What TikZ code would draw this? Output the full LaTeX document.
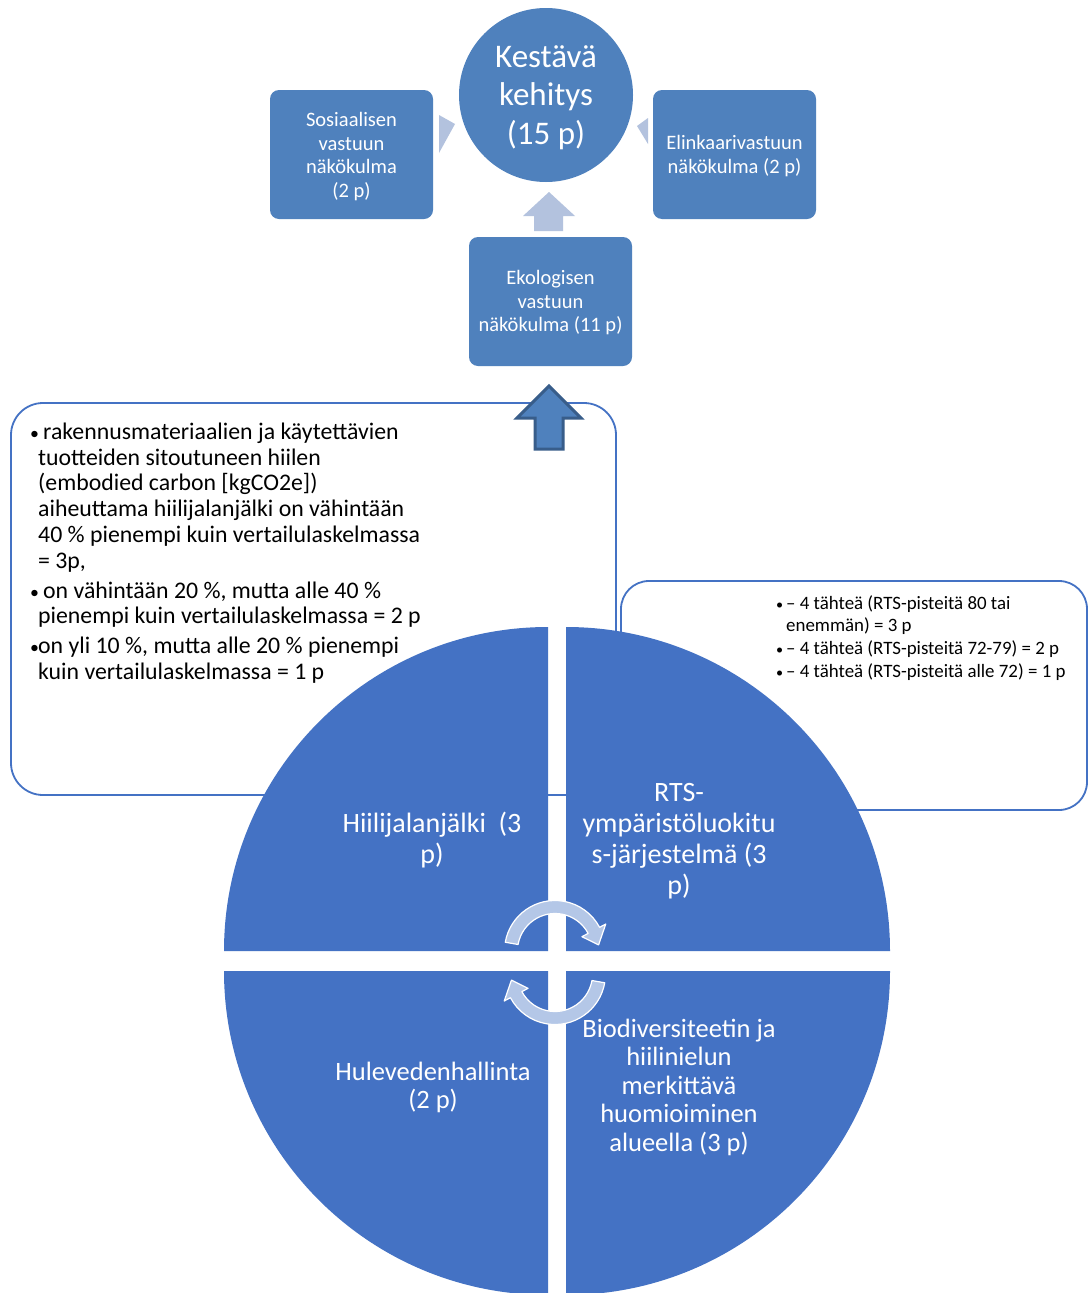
\documentclass[tikz,border=0pt]{standalone}
\usepackage{fontspec}
\setmainfont{Carlito}
\usetikzlibrary{calc}

\definecolor{topblue}{RGB}{79,129,189}
\definecolor{pieblue}{RGB}{68,114,196}
\definecolor{softblue}{RGB}{179,194,222}
\definecolor{cyclefill}{RGB}{180,199,231}
\definecolor{darkrim}{RGB}{56,93,138}
\definecolor{framecol}{RGB}{68,114,196}

% bullet set in a box of the given width
\newcommand\bulbox[1]{\makebox[#1pt][l]{\scalebox{0.75}{\textbullet}}}

\begin{document}
\begin{tikzpicture}[x=1pt,y=-1pt,
  aspectbox/.style={fill=topblue, rounded corners=9pt, minimum width=163pt,
    minimum height=129pt, inner sep=0pt},
  aspecttext/.style={text=white, align=center, inner sep=0pt,
    font=\fontsize{20.5}{23.5}\selectfont},
  textframe/.style={draw=framecol, line width=1.8pt, fill=white, inner sep=0pt},
  wedgetext/.style={text=white, align=center, inner sep=0pt},
  softtip/.style={fill=softblue},
  cyclearrow/.style={fill=cyclefill, draw=white, line width=1.2pt, line join=round},
]
\useasboundingbox (0,0) rectangle (1088,1293);
\clip (0,0) rectangle (1088,1293);
\fill[white] (0,0) rectangle (1088,1293);

% criteria frames
\node[textframe, rounded corners=32pt, minimum width=605pt, minimum height=392pt]
  (leftframe) at (313.5,599) {};
\node[textframe, rounded corners=28pt, minimum width=466pt, minimum height=229pt]
  (rightframe) at (854,695.5) {};

% upward block arrow from the frame to the ecological box
\filldraw[fill=topblue, draw=darkrim, line width=3pt, line join=miter]
  (535,449) -- (535,418) -- (517,418) -- (549,386) -- (581,418) -- (563,418) -- (563,449) -- cycle;

% four quarter wedges
\fill[pieblue] (548,951) -- (224,951) arc[start angle=180, end angle=270, radius=324] -- cycle;
\fill[pieblue] (566,951) -- (566,627) arc[start angle=270, end angle=360, radius=324] -- cycle;
\fill[pieblue] (548,971) -- (548,1295) arc[start angle=90, end angle=180, radius=324] -- cycle;
\fill[pieblue] (566,971) -- (890,971) arc[start angle=0, end angle=90, radius=324] -- cycle;

% cycle arrows in the middle
\begin{scope}[shift={(555,951)}]
  \filldraw[cyclearrow] (190:50.5) arc[start angle=190, end angle=332, radius=50.5]
    -- (332:57.5) -- (352:44) -- (332:30.5) -- (332:37.5)
    arc[start angle=332, end angle=190, radius=37.5] -- cycle;
\end{scope}
\begin{scope}[shift={(555,974)}]
  \filldraw[cyclearrow] (10:50.5) arc[start angle=10, end angle=152, radius=50.5]
    -- (152:57.5) -- (172:44) -- (152:30.5) -- (152:37.5)
    arc[start angle=152, end angle=10, radius=37.5] -- cycle;
\end{scope}

% wedge labels
\node[wedgetext, font=\fontsize{28}{31}\selectfont] (hiili) at (432,840)
  {Hiilijalanjälki\ \ (3\\p)};
\node[wedgetext, font=\fontsize{28}{31}\selectfont] (rts) at (679,841)
  {RTS-\\ympäristöluokitu\\s-järjestelmä (3\\p)};
\node[wedgetext, font=\fontsize{26.5}{28.5}\selectfont] (hule) at (433,1087.5)
  {Hulevedenhallinta\\(2 p)};
\node[wedgetext, font=\fontsize{26.5}{28.5}\selectfont] (bio) at (679,1087)
  {Biodiversiteetin ja\\hiilinielun\\merkittävä\\huomioiminen\\alueella (3 p)};

% criteria texts
\node[anchor=north west, align=left, inner sep=0pt,
      font=\fontsize{23.8}{25.8}\selectfont] (lefttext) at (30,422.5)
  {\bulbox{13}rakennusmateriaalien ja käytettävien\\
   \hspace*{8pt}tuotteiden sitoutuneen hiilen\\
   \hspace*{8pt}(embodied carbon [kgCO2e])\\
   \hspace*{8pt}aiheuttama hiilijalanjälki on vähintään\\
   \hspace*{8pt}40 \% pienempi kuin vertailulaskelmassa\\
   \hspace*{8pt}= 3p,\\[4pt]
   \bulbox{13}on vähintään 20 \%, mutta alle 40 \%\\
   \hspace*{8pt}pienempi kuin vertailulaskelmassa = 2 p\\[4pt]
   \bulbox{8}on yli 10 \%, mutta alle 20 \% pienempi\\
   \hspace*{8pt}kuin vertailulaskelmassa = 1 p};

\node[anchor=north west, align=left, inner sep=0pt,
      font=\fontsize{18.9}{21.5}\selectfont] (righttext) at (776,595.5)
  {\bulbox{10}– 4 tähteä (RTS-pisteitä 80 tai\\
   \hspace*{10pt}enemmän) = 3 p\\[1.5pt]
   \bulbox{10}– 4 tähteä (RTS-pisteitä 72-79) = 2 p\\[1.5pt]
   \bulbox{10}– 4 tähteä (RTS-pisteitä alle 72) = 1 p};

% upper part: goal and the three viewpoints
\node[circle, fill=topblue, minimum size=174pt, inner sep=0pt] (kest) at (546,95) {};
\node[text=white, align=center, inner sep=0pt, font=\fontsize{33}{38.3}\selectfont]
  (kesttext) at (546,97.5) {Kestävä\\kehitys\\(15 p)};
\node[aspectbox] (sos) at (351.5,154.5) {};
\node[aspectbox] (elin) at (734.5,154.5) {};
\node[aspectbox] (eko) at (550.5,301.5) {};
\node[aspecttext] (sostext) at (351.5,156.5) {Sosiaalisen\\vastuun\\näkökulma\\(2 p)};
\node[aspecttext] (elintext) at (734.5,156) {Elinkaarivastuun\\näkökulma (2 p)};
\node[aspecttext] (ekotext) at (550.5,303) {Ekologisen\\vastuun\\näkökulma (11 p)};

% light pointers towards the goal
\fill[softtip] (439,115) -- (455,124) -- (439,153) -- cycle;
\fill[softtip] (637,126) -- (648,118) -- (648,144) -- cycle;
\fill[softtip] (534,231) -- (534,216) -- (523,216) -- (549,192) -- (575,216) -- (563,216) -- (563,231) -- cycle;
\end{tikzpicture}
\end{document}
